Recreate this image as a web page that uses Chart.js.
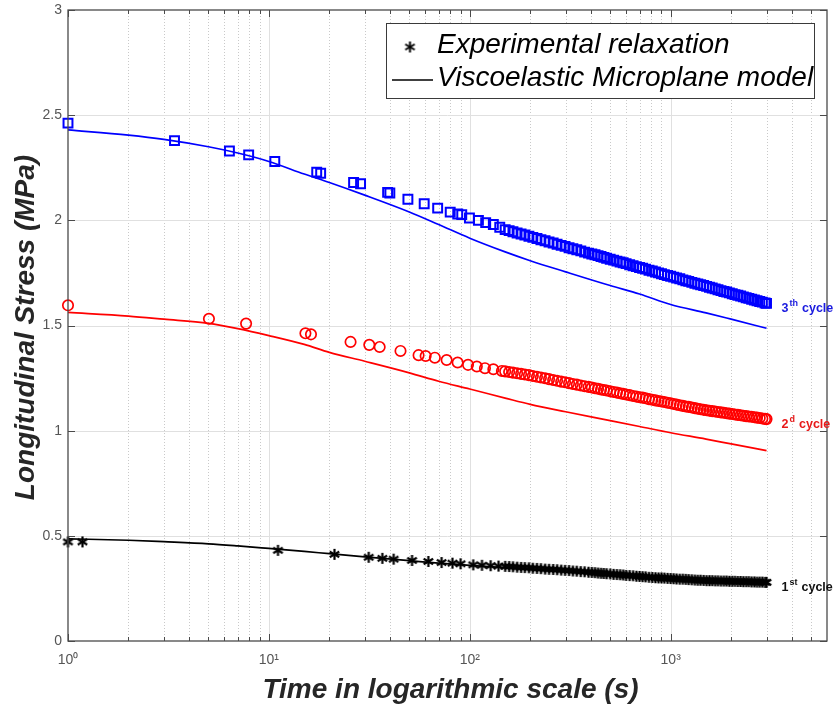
<!DOCTYPE html>
<html>
<head>
<meta charset="utf-8">
<title>Longitudinal stress relaxation</title>
<script src="https://cdn.jsdelivr.net/npm/chart.js@4.4.1/dist/chart.umd.min.js"></script>
<style>
  html, body { margin: 0; padding: 0; background: #fff; }
  #wrap { position: relative; width: 836px; height: 707px; }
</style>
</head>
<body>
<div id="wrap"><canvas id="relaxChart" width="836" height="707"></canvas></div>
<script>
"use strict";

const FONT = "'Liberation Sans', Arial, Helvetica, sans-serif";

// axis ticks
const xTickValues = [1, 10, 100, 1000];
const xTickLabels = ["10\u2070", "10\u00b9", "10\u00b2", "10\u00b3"];
const yTickValues = [0, 0.5, 1, 1.5, 2, 2.5, 3];
const yTickLabels = ["0", "0.5", "1", "1.5", "2", "2.5", "3"];

// model curves (viscoelastic microplane)
const modelTimes = [1, 2, 3, 5, 7, 10, 15, 20, 30, 50, 70, 100, 150, 200, 300, 500, 700, 1000, 1500, 2000, 3000];
const model3 = [2.43, 2.405, 2.385, 2.35, 2.32, 2.28, 2.22, 2.18, 2.12, 2.04, 1.98, 1.915, 1.85, 1.808, 1.755, 1.69, 1.65, 1.60, 1.56, 1.53, 1.487];
const model2 = [1.562, 1.545, 1.53, 1.51, 1.485, 1.452, 1.41, 1.372, 1.33, 1.275, 1.235, 1.198, 1.155, 1.125, 1.09, 1.048, 1.02, 0.99, 0.96, 0.937, 0.905];
const model1 = [0.486, 0.479, 0.472, 0.462, 0.452, 0.44, 0.426, 0.415, 0.4, 0.382, 0.37, 0.36, 0.349, 0.341, 0.331, 0.316, 0.304, 0.293, 0.285, 0.281, 0.277];

// experimental relaxation, sparse early readings per cycle
const cycle3Times = [1, 3.39, 6.36, 7.93, 10.7, 17.3, 18.1, 26.4, 28.6, 39, 40, 49.2, 59.3, 69.2, 79.9, 87.1, 91.2, 99.6, 110.4, 120, 131, 141];
const cycle3Early = [2.462, 2.379, 2.33, 2.311, 2.28, 2.229, 2.224, 2.18, 2.174, 2.133, 2.13, 2.10, 2.079, 2.058, 2.039, 2.03, 2.027, 2.011, 2.0, 1.989, 1.98, 1.967];
const cycle2Times = [1, 5.03, 7.7, 15.2, 16.2, 25.5, 31.6, 35.6, 45.2, 55.6, 60.3, 67, 76.7, 87, 98, 108.4, 119, 131, 144.5];
const cycle2Early = [1.596, 1.532, 1.509, 1.463, 1.458, 1.422, 1.408, 1.398, 1.379, 1.359, 1.355, 1.347, 1.336, 1.324, 1.313, 1.305, 1.297, 1.292, 1.284];
const cycle1Times = [1, 1.18, 11.1, 21.2, 31.4, 36.7, 41.8, 51.6, 62.2, 72.4, 82, 90, 104, 115, 127, 139];
const cycle1Early = [0.471, 0.471, 0.431, 0.412, 0.398, 0.393, 0.389, 0.383, 0.378, 0.373, 0.37, 0.367, 0.362, 0.36, 0.358, 0.356];

// experimental relaxation, dense logging after ~150 s (shared time stamps)
const denseTimes = [150, 157, 164, 172, 180, 188, 197, 206, 216, 226, 237, 248, 260, 272, 285, 298, 312, 326, 341, 357,
  373, 390, 405, 420, 435, 450, 465, 480, 500, 520, 540, 560, 580, 600, 625, 650, 675, 700, 725, 750,
  780, 810, 840, 870, 900, 930, 965, 1000, 1035, 1070, 1110, 1150, 1190, 1230, 1275, 1320, 1365, 1410, 1460, 1510,
  1560, 1610, 1665, 1720, 1780, 1840, 1900, 1960, 2025, 2090, 2160, 2230, 2300, 2375, 2450, 2530, 2610, 2690, 2775, 2860,
  2950, 3000];
const cycle3Dense = [1.956, 1.951, 1.946, 1.940, 1.935, 1.930, 1.924, 1.919, 1.914, 1.908, 1.903, 1.897, 1.892, 1.886, 1.881, 1.876, 1.870, 1.865, 1.860, 1.855,
  1.849, 1.844, 1.840, 1.836, 1.832, 1.828, 1.824, 1.820, 1.815, 1.811, 1.806, 1.802, 1.798, 1.794, 1.789, 1.784, 1.780, 1.776, 1.772, 1.768,
  1.763, 1.759, 1.754, 1.750, 1.746, 1.742, 1.738, 1.734, 1.730, 1.726, 1.722, 1.717, 1.713, 1.710, 1.705, 1.701, 1.697, 1.694, 1.690, 1.686,
  1.682, 1.678, 1.674, 1.670, 1.666, 1.662, 1.659, 1.655, 1.651, 1.647, 1.644, 1.640, 1.636, 1.632, 1.629, 1.625, 1.621, 1.618, 1.614, 1.611,
  1.607, 1.605];
const cycle2Dense = [1.282, 1.279, 1.276, 1.273, 1.270, 1.267, 1.264, 1.260, 1.256, 1.253, 1.249, 1.245, 1.241, 1.237, 1.233, 1.230, 1.226, 1.222, 1.219, 1.215,
  1.211, 1.208, 1.205, 1.202, 1.199, 1.196, 1.193, 1.191, 1.187, 1.184, 1.181, 1.178, 1.175, 1.172, 1.169, 1.165, 1.162, 1.159, 1.157, 1.154,
  1.150, 1.147, 1.144, 1.141, 1.139, 1.136, 1.133, 1.130, 1.127, 1.124, 1.121, 1.118, 1.115, 1.113, 1.110, 1.107, 1.104, 1.102, 1.099, 1.097,
  1.095, 1.093, 1.091, 1.089, 1.087, 1.085, 1.083, 1.081, 1.079, 1.077, 1.075, 1.073, 1.071, 1.069, 1.067, 1.066, 1.064, 1.062, 1.060, 1.058,
  1.056, 1.055];
const cycle1Dense = [0.355, 0.354, 0.353, 0.351, 0.350, 0.349, 0.348, 0.346, 0.345, 0.344, 0.342, 0.341, 0.340, 0.339, 0.337, 0.336, 0.335, 0.333, 0.332, 0.330,
  0.329, 0.327, 0.326, 0.325, 0.323, 0.322, 0.321, 0.320, 0.319, 0.317, 0.316, 0.315, 0.314, 0.312, 0.311, 0.310, 0.308, 0.307, 0.306, 0.305,
  0.303, 0.302, 0.301, 0.300, 0.300, 0.299, 0.298, 0.297, 0.296, 0.295, 0.294, 0.294, 0.293, 0.292, 0.291, 0.290, 0.289, 0.289, 0.288, 0.287,
  0.287, 0.287, 0.286, 0.286, 0.285, 0.285, 0.285, 0.284, 0.284, 0.284, 0.283, 0.283, 0.282, 0.282, 0.282, 0.281, 0.281, 0.280, 0.280, 0.280,
  0.279, 0.279];

const cycleLabels = [
  { main: "3", sup: "th", color: "#1a1adf" },
  { main: "2", sup: "d", color: "#e81a1a" },
  { main: "1", sup: "st", color: "#111111" }
];

const X_MAX = 6000;

function toPoints(xs, ys) {
  return xs.map((x, i) => ({ x, y: ys[i] }));
}

function makeAsterisk(size, color, width) {
  const c = document.createElement("canvas");
  c.width = size;
  c.height = size;
  const g = c.getContext("2d");
  g.strokeStyle = color;
  g.lineWidth = width;
  const m = size / 2;
  const r = size / 2 - 1;
  [90, 30, 150].forEach((deg) => {
    const a = (deg * Math.PI) / 180;
    g.beginPath();
    g.moveTo(m - r * Math.cos(a), m - r * Math.sin(a));
    g.lineTo(m + r * Math.cos(a), m + r * Math.sin(a));
    g.stroke();
  });
  return c;
}

const asterisk = makeAsterisk(13, "#000", 2.2);
const legendAsterisk = makeAsterisk(13, "#000", 2);

function strokeLine(ctx, x1, y1, x2, y2) {
  ctx.beginPath();
  ctx.moveTo(x1, y1);
  ctx.lineTo(x2, y2);
  ctx.stroke();
}

function minorTimes() {
  const out = [];
  xTickValues.forEach((d) => {
    for (let k = 2; k <= 9; k++) {
      if (k * d < X_MAX) out.push(k * d);
    }
  });
  return out;
}

const matlabLook = {
  id: "matlabLook",
  beforeDatasetsDraw(chart) {
    const { ctx, chartArea: a, scales: { x, y } } = chart;
    ctx.save();
    ctx.lineWidth = 1;
    ctx.strokeStyle = "#c9c9c9";
    ctx.setLineDash([1, 2]);
    minorTimes().forEach((t) => {
      const px = Math.round(x.getPixelForValue(t)) + 0.5;
      strokeLine(ctx, px, a.top, px, a.bottom);
    });
    ctx.setLineDash([]);
    ctx.strokeStyle = "#e0e0e0";
    xTickValues.slice(1).forEach((t) => {
      const px = Math.round(x.getPixelForValue(t)) + 0.5;
      strokeLine(ctx, px, a.top, px, a.bottom);
    });
    yTickValues.slice(1, -1).forEach((v) => {
      const py = Math.round(y.getPixelForValue(v)) + 0.5;
      strokeLine(ctx, a.left, py, a.right, py);
    });
    ctx.restore();
  },
  afterDatasetsDraw(chart) {
    const { ctx, chartArea: a, scales: { x, y } } = chart;
    ctx.save();

    // axes box and inward ticks
    ctx.strokeStyle = "#4a4a4a";
    ctx.lineWidth = 1.3;
    ctx.strokeRect(a.left, a.top, a.right - a.left, a.bottom - a.top);
    ctx.lineWidth = 1;
    minorTimes().forEach((t) => {
      const px = Math.round(x.getPixelForValue(t)) + 0.5;
      strokeLine(ctx, px, a.bottom, px, a.bottom - 4);
      strokeLine(ctx, px, a.top, px, a.top + 4);
    });
    xTickValues.forEach((t) => {
      const px = Math.round(x.getPixelForValue(t)) + 0.5;
      strokeLine(ctx, px, a.bottom, px, a.bottom - 7);
      strokeLine(ctx, px, a.top, px, a.top + 7);
    });
    yTickValues.forEach((v) => {
      const py = Math.round(y.getPixelForValue(v)) + 0.5;
      strokeLine(ctx, a.left, py, a.left + 7, py);
      strokeLine(ctx, a.right, py, a.right - 7, py);
    });

    // cycle labels next to the last experimental point
    [0, 1, 2].forEach((i) => {
      const meta = chart.getDatasetMeta(i);
      const last = meta.data[meta.data.length - 1];
      const lab = cycleLabels[i];
      let lx = last.x + 15;
      const ly = last.y + 9;
      ctx.fillStyle = lab.color;
      ctx.textBaseline = "alphabetic";
      ctx.font = `bold 12.5px ${FONT}`;
      ctx.fillText(lab.main, lx, ly);
      lx += ctx.measureText(lab.main).width + 1;
      ctx.font = `bold 9px ${FONT}`;
      ctx.fillText(lab.sup, lx, ly - 6);
      lx += ctx.measureText(lab.sup).width + 4;
      ctx.font = `bold 12.5px ${FONT}`;
      ctx.fillText("cycle", lx, ly);
    });

    // legend
    const lx0 = a.right - 440.5;
    const ly0 = a.top + 13.5;
    ctx.fillStyle = "#fff";
    ctx.fillRect(lx0, ly0, 428, 75);
    ctx.strokeStyle = "#3a3a3a";
    ctx.lineWidth = 1;
    ctx.strokeRect(lx0, ly0, 428, 75);
    ctx.drawImage(legendAsterisk, a.right - 417 - legendAsterisk.width / 2, a.top + 37 - legendAsterisk.height / 2);
    ctx.strokeStyle = "#000";
    ctx.lineWidth = 1.6;
    strokeLine(ctx, a.right - 435, a.top + 70, a.right - 394, a.top + 70);
    ctx.fillStyle = "#000";
    ctx.font = `italic 28px ${FONT}`;
    ctx.fillText("Experimental relaxation", a.right - 390, a.top + 43);
    ctx.fillText("Viscoelastic Microplane model", a.right - 390, a.top + 76);

    // axis titles
    ctx.fillStyle = "#262626";
    ctx.font = `italic bold 28px ${FONT}`;
    ctx.textAlign = "center";
    ctx.fillText("Time in logarithmic scale (s)", (a.left + a.right) / 2 + 3, 698);
    ctx.translate(34, (a.top + a.bottom) / 2 + 2);
    ctx.rotate(-Math.PI / 2);
    ctx.fillText("Longitudinal Stress (MPa)", 0, 0);
    ctx.restore();
  }
};

const expBase = {
  showLine: false,
  clip: false,
  order: 0,
  pointHoverRadius: 0
};
const modelBase = {
  pointRadius: 0,
  borderWidth: 1.7,
  cubicInterpolationMode: "monotone",
  fill: false,
  order: 1
};

new Chart(document.getElementById("relaxChart"), {
  type: "line",
  data: {
    datasets: [
      {
        ...expBase,
        label: "3th cycle experimental",
        data: toPoints(cycle3Times.concat(denseTimes), cycle3Early.concat(cycle3Dense)),
        pointStyle: "rect",
        pointRadius: 6.3,
        pointBorderWidth: 2,
        pointBorderColor: "#0000ff",
        pointBackgroundColor: "rgba(0,0,0,0)"
      },
      {
        ...expBase,
        label: "2d cycle experimental",
        data: toPoints(cycle2Times.concat(denseTimes), cycle2Early.concat(cycle2Dense)),
        pointStyle: "circle",
        pointRadius: 5.2,
        pointBorderWidth: 1.7,
        pointBorderColor: "#ff0000",
        pointBackgroundColor: "rgba(0,0,0,0)"
      },
      {
        ...expBase,
        label: "1st cycle experimental",
        data: toPoints(cycle1Times.concat(denseTimes), cycle1Early.concat(cycle1Dense)),
        pointStyle: asterisk,
        pointRadius: 6
      },
      { ...modelBase, label: "3th cycle model", data: toPoints(modelTimes, model3), borderColor: "#0000ff" },
      { ...modelBase, label: "2d cycle model", data: toPoints(modelTimes, model2), borderColor: "#ff0000" },
      { ...modelBase, label: "1st cycle model", data: toPoints(modelTimes, model1), borderColor: "#000000" }
    ]
  },
  options: {
    responsive: false,
    animation: false,
    devicePixelRatio: 1,
    events: [],
    layout: { padding: { top: 10, right: 9, left: 0, bottom: 0 } },
    plugins: {
      legend: { display: false },
      tooltip: { enabled: false }
    },
    scales: {
      x: {
        type: "logarithmic",
        min: 1,
        max: X_MAX,
        grid: { display: false, drawTicks: false },
        border: { display: false },
        afterBuildTicks: (scale) => {
          scale.ticks = xTickValues.map((value) => ({ value }));
        },
        afterFit: (scale) => {
          scale.height = 66;
          scale.paddingLeft = 0;
          scale.paddingRight = 0;
        },
        ticks: {
          autoSkip: false,
          maxRotation: 0,
          padding: 11,
          color: "#555555",
          font: { size: 14, family: FONT },
          callback: (value) => xTickLabels[xTickValues.indexOf(value)]
        }
      },
      y: {
        type: "linear",
        min: 0,
        max: 3,
        grid: { display: false, drawTicks: false },
        border: { display: false },
        afterBuildTicks: (scale) => {
          scale.ticks = yTickValues.map((value) => ({ value }));
        },
        afterFit: (scale) => {
          scale.width = 68;
          scale.paddingTop = 0;
          scale.paddingBottom = 0;
        },
        ticks: {
          padding: 6,
          color: "#555555",
          font: { size: 14, family: FONT },
          callback: (value) => yTickLabels[yTickValues.indexOf(value)]
        }
      }
    }
  },
  plugins: [matlabLook]
});
</script>
</body>
</html>
